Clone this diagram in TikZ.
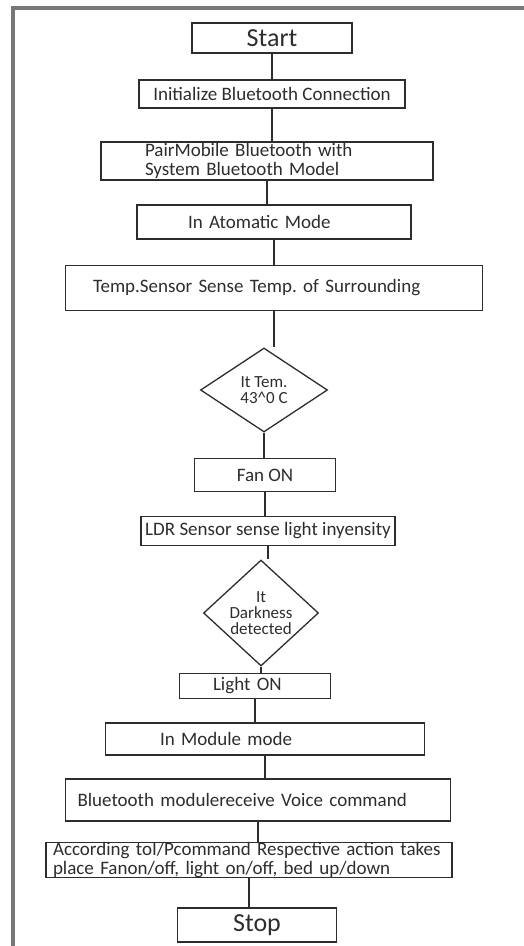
\documentclass[tikz,border=0pt]{standalone}
\usepackage{fontspec}
\setmainfont{Carlito}
\usetikzlibrary{shapes.geometric}
\frenchspacing

\definecolor{framegray}{RGB}{120,120,120}
\definecolor{inkgray}{RGB}{45,45,45}

\tikzset{
    procbox/.style={shape=rectangle, draw=inkgray, line width=1.3pt, inner sep=0pt,
        text=inkgray, font=\fontsize{19}{19}\selectfont},
    termbox/.style={procbox, font=\fontsize{26}{26}\selectfont},
    decision/.style={shape=diamond, draw=inkgray, line width=1.3pt, inner sep=0pt,
        text=inkgray, align=center, font=\fontsize{17}{16}\selectfont},
    link/.style={draw=inkgray, line width=1.3pt}
}

\begin{document}
\begin{tikzpicture}[x=1pt, y=-1pt]
    \useasboundingbox (0, 0) rectangle (524, 946);
    \draw[framegray, line width=3.5pt] (13, 946) -- (13, 8) -- (524, 8);

    \node (start)  at (272, 38)  [termbox, minimum width=160, minimum height=30] {Start};
    \node (init)   at (272, 94)  [procbox, minimum width=266, minimum height=28] {Initialize Bluetooth Connection};
    \node (pair)   at (267, 161) [procbox, minimum width=332, minimum height=38, text width=244, align=left]
        {PairMobile Bluetooth with\\System Bluetooth Model};
    \node (auto)   at (274, 222) [procbox, minimum width=274, minimum height=34, text width=172, align=left] {In Atomatic Mode};
    \node (temp)   at (274, 288) [procbox, minimum width=417, minimum height=45, text width=362, align=left]
        {Temp.Sensor Sense Temp. of Surrounding};
    \node (tempq)  at (264, 390) [decision, minimum width=127, minimum height=84] {It Tem.\\43\textasciicircum 0 C};
    \node (fan)    at (265, 475) [procbox, minimum width=141, minimum height=33] {Fan ON};
    \node (ldr)    at (268, 531) [procbox, minimum width=254, minimum height=29] {LDR Sensor sense light inyensity};
    \node (darkq)  at (261, 613) [decision, minimum width=115, minimum height=72] {It\\Darkness\\detected};
    \node (light)  at (255, 686) [procbox, minimum width=151, minimum height=25, text width=130, align=left]
        {\hspace*{23pt}Light ON};
    \node (module) at (265, 739) [procbox, minimum width=319, minimum height=32, text width=210, align=left] {In Module mode};
    \node (voice)  at (258, 800) [procbox, minimum width=385, minimum height=42, text width=361, align=left]
        {Bluetooth modulereceive Voice command};
    \node (action) at (249, 860) [procbox, minimum width=406, minimum height=35, text width=392, align=left]
        {According toI/Pcommand Respective action takes\\place Fanon/off, light on/off, bed up/down};
    \node (stop)   at (257, 925) [termbox, minimum width=159, minimum height=34] {Stop};

    \draw[link] (start.south)  -- (start.south |- init.north);
    \draw[link] (init.south)   -- (init.south |- pair.north);
    \draw[link] (pair.south)   -- (pair.south |- auto.north);
    \draw[link] (auto.south)   -- (auto.south |- temp.north);
    \draw[link] (temp.south)   -- (temp.south |- tempq.north);
    \draw[link] (tempq.south)  -- (tempq.south |- fan.north);
    \draw[link] (fan.south)    -- (fan.south |- ldr.north);
    \draw[link] (ldr.south)    -- (ldr.south |- darkq.north);
    \draw[link] (darkq.south)  -- (darkq.south |- light.north);
    \draw[link] (light.south)  -- (light.south |- module.north);
    \draw[link] (module.south) -- (module.south |- voice.north);
    \draw[link] (voice.south)  -- (voice.south |- action.north);
    \draw[link] (action.south) -- (action.south |- stop.north);
\end{tikzpicture}
\end{document}
